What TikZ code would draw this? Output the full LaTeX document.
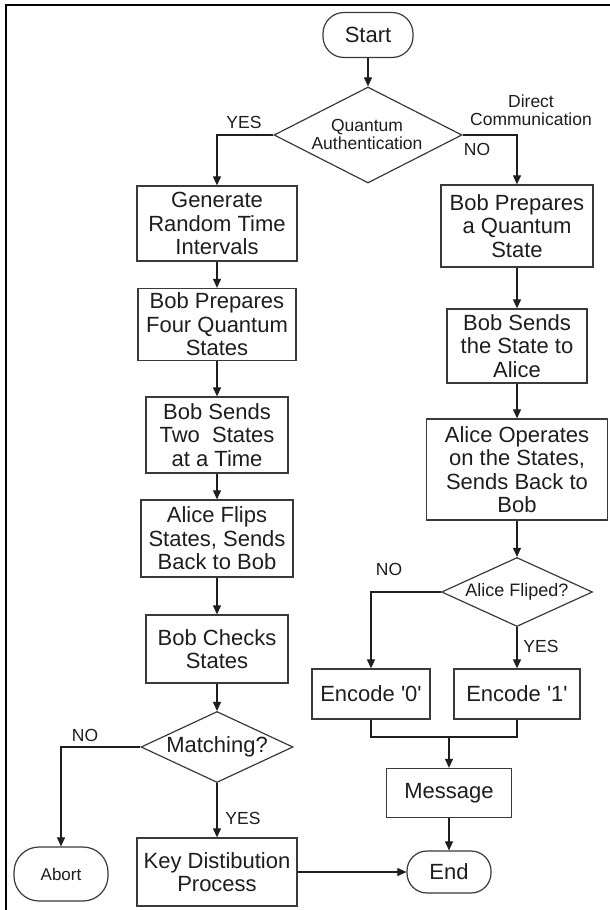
\documentclass[tikz,border=0pt]{standalone}
\usepackage{fontspec}
\setmainfont{Liberation Sans}
\usetikzlibrary{arrows.meta,shapes.geometric}
\newcommand{\bxf}{\fontsize{22pt}{23.5pt}\selectfont}
\newcommand{\lbf}{\fontsize{17.5pt}{18pt}\selectfont}
\definecolor{ink}{HTML}{1E1E1E}
\definecolor{edge}{HTML}{3A3A3A}
\begin{document}
\begin{tikzpicture}[x=1pt,y=-1pt,
  box/.style={draw=edge, line width=1.3pt, rectangle, align=center, inner sep=0pt, font=\bxf, text=ink},
  term/.style={draw=edge, line width=1.2pt, rectangle, align=center, inner sep=0pt, text=ink},
  dia/.style={draw=edge, line width=1.2pt, diamond, inner sep=0pt},
  arr/.style={-{Triangle[length=9pt,width=8pt]}, line width=1.1pt, draw=ink},
  ln/.style={line width=1.1pt, draw=ink},
  lbl/.style={font=\lbf, text=ink, inner sep=0pt, align=center}]
\useasboundingbox (0,0) rectangle (610,910);
\fill[white] (0,0) rectangle (610,910);
% frame
\draw[line width=2.3pt, black] (6.2,910) -- (6.2,5.2) -- (610,5.2);

% top
\node[term, font=\bxf, minimum width=90pt, minimum height=45pt, rounded corners=21pt] (start) at (368,35) {Start};
\node[dia, minimum width=188pt, minimum height=96pt] (qa) at (368,135) {};
\node[lbl] (qat) at (367,134) {Quantum\\Authentication};

% left column
\node[box, minimum width=160pt, minimum height=75pt] (gen) at (217,223.5) {Generate\\Random Time\\Intervals};
\node[box, minimum width=158pt, minimum height=72pt] (bp4) at (217,324.5) {Bob Prepares\\Four Quantum\\States};
\node[box, minimum width=142pt, minimum height=76pt] (bs2) at (217,435) {Bob Sends\\Two\ \ States\\at a Time};
\node[box, minimum width=152pt, minimum height=77pt] (afs) at (217,538.5) {Alice Flips\\States, Sends\\Back to Bob};
\node[box, minimum width=142pt, minimum height=68pt] (bcs) at (217,649) {Bob Checks\\States};
\node[dia, minimum width=152pt, minimum height=71pt] (mat) at (217,747) {};
\node[font=\bxf, text=ink, inner sep=0pt] (matt) at (217,747) {Matching?};
\node[box, minimum width=160pt, minimum height=68pt] (key) at (217,872) {Key Distibution\\Process};
\node[term, font=\fontsize{17pt}{18pt}\selectfont, minimum width=94pt, minimum height=54pt, rounded corners=25pt] (abort) at (61,874) {Abort};

% right column
\node[box, minimum width=152pt, minimum height=82pt] (bpq) at (517,226) {Bob Prepares\\a Quantum\\State};
\node[box, minimum width=140pt, minimum height=74pt] (bsa) at (517,346) {Bob Sends\\the State to\\Alice};
\node[box, minimum width=181pt, minimum height=101pt] (aos) at (517,469.5) {Alice Operates\\on the States,\\Sends Back to\\Bob};
\node[dia, minimum width=151pt, minimum height=69pt] (afl) at (517,592) {};
\node[font=\fontsize{18pt}{19pt}\selectfont, text=ink, inner sep=0pt] (aflt) at (517,592) {Alice Fliped?};
\node[box, minimum width=118pt, minimum height=50pt] (e0) at (371,694) {Encode \textquotesingle 0\textquotesingle};
\node[box, minimum width=126pt, minimum height=50pt] (e1) at (517,694) {Encode \textquotesingle 1\textquotesingle};
\coordinate (mj) at (449,737);
\node[box, minimum width=125pt, minimum height=49pt] (msg) at (449,793) {Message};
\node[term, font=\bxf, minimum width=84pt, minimum height=42pt, rounded corners=20pt] (end) at (449,872) {End};

% connectors
\draw[arr] (start.south) -- (qa.north);
\draw[arr] (qa.west) -| (gen.north);
\draw[arr] (qa.east) -| (bpq.north);
\draw[arr] (gen.south) -- (bp4.north);
\draw[arr] (bp4.south) -- (bs2.north);
\draw[arr] (bs2.south) -- (afs.north);
\draw[arr] (afs.south) -- (bcs.north);
\draw[arr] (bcs.south) -- (mat.north);
\draw[arr] (mat.west) -| (abort.north);
\draw[arr] (mat.south) -- (key.north);
\draw[arr] (key.east) -- (end.west);
\draw[arr] (bpq.south) -- (bsa.north);
\draw[arr] (bsa.south) -- (aos.north);
\draw[arr] (aos.south) -- (afl.north);
\draw[arr] (afl.west) -| (e0.north);
\draw[arr] (afl.south) -- (e1.north);
\draw[ln] (e0.south) |- (mj) -| (e1.south);
\draw[arr] (mj) -- (msg.north);
\draw[arr] (msg.south) -- (end.north);

% labels
\node[lbl] (yes1) at (244,122) {YES};
\node[lbl] (no1) at (477,149) {NO};
\node[lbl] (dc) at (531,110) {Direct\\Communication};
\node[lbl] (no2) at (85,735) {NO};
\node[lbl] (yes2) at (243,818) {YES};
\node[lbl] (no3) at (389,569) {NO};
\node[lbl] (yes3) at (541,646) {YES};
\end{tikzpicture}
\end{document}
